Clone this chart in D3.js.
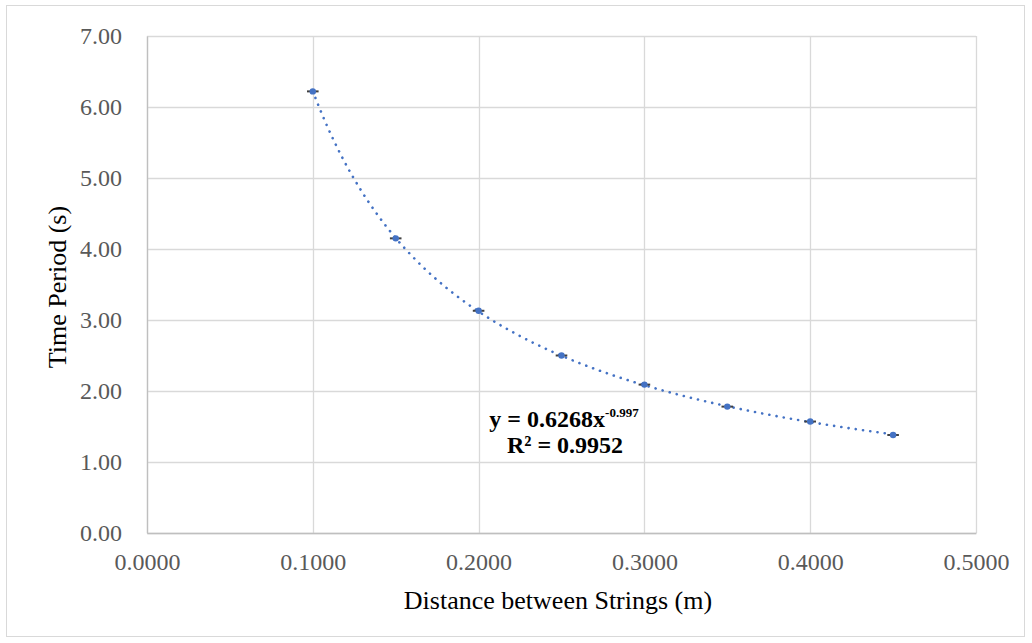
<!DOCTYPE html>
<html>
<head>
<meta charset="utf-8">
<script src="https://cdn.jsdelivr.net/npm/d3@7"></script>
<style>
  body { margin: 0; background: #fff; }
  text { font-family: "Liberation Serif", "Times New Roman", serif; }
</style>
</head>
<body>
<div id="chart"></div>
<script>
// ===== datos =====
const distances = [0.10, 0.15, 0.20, 0.25, 0.30, 0.35, 0.40, 0.45];
const periods = [6.22, 4.15, 3.13, 2.50, 2.09, 1.78, 1.57, 1.38];
const xErr = 0.0035;
const fitA = 0.6268;
const fitB = -0.997;
const xTicks = [0, 0.1, 0.2, 0.3, 0.4, 0.5];
const yTicks = [0, 1, 2, 3, 4, 5, 6, 7];

// ===== configuración =====
const svgWidth = 1032;
const svgHeight = 643;
const margin = { top: 36, right: 56, bottom: 110, left: 147 };
const width = 976 - margin.left;
const height = 533 - margin.top;

const root = d3.select("#chart")
  .append("svg")
  .attr("width", svgWidth)
  .attr("height", svgHeight);

root.append("rect")
  .attr("x", 6.5).attr("y", 5.5)
  .attr("width", 1018).attr("height", 631)
  .attr("fill", "#fff")
  .attr("stroke", "#d9d9d9");

const svg = root.append("g")
  .attr("transform", `translate(${margin.left},${margin.top})`);

const x = d3.scaleLinear().domain([0, 0.5]).range([0, width]);
const y = d3.scaleLinear().domain([0, 7]).range([height, 0]);

// grid
svg.append("g").selectAll("line.h")
  .data(yTicks)
  .join("line")
  .attr("x1", 0).attr("x2", width)
  .attr("y1", d => Math.round(y(d)) + 0.5).attr("y2", d => Math.round(y(d)) + 0.5)
  .attr("stroke", "#d9d9d9").attr("stroke-width", 1.3);

svg.append("g").selectAll("line.v")
  .data(xTicks)
  .join("line")
  .attr("y1", 0).attr("y2", height)
  .attr("x1", d => Math.round(x(d)) + 0.5).attr("x2", d => Math.round(x(d)) + 0.5)
  .attr("stroke", "#d9d9d9").attr("stroke-width", 1.3);

// ejes
const xAxis = svg.append("g")
  .attr("transform", `translate(0,${height})`)
  .call(d3.axisBottom(x).tickValues(xTicks).tickFormat(d3.format(".4f")).tickSize(0).tickPadding(20));
const yAxis = svg.append("g")
  .call(d3.axisLeft(y).tickValues(yTicks).tickFormat(d3.format(".2f")).tickSize(0).tickPadding(25));

[xAxis, yAxis].forEach(a => {
  a.select(".domain").attr("stroke", "#bfbfbf").attr("stroke-width", 1.3);
  a.selectAll("text")
    .attr("fill", "#595959")
    .style("font-size", "24px")
    .style("font-family", "'Liberation Serif', serif");
});
yAxis.selectAll("text").attr("dy", "0.33em");

// línea de tendencia
const fitX = d3.range(0.1, 0.4501, 0.002);
const line = d3.line()
  .x(d => x(d))
  .y(d => y(fitA * Math.pow(d, fitB)));

svg.append("path")
  .datum(fitX)
  .attr("d", line)
  .attr("fill", "none")
  .attr("stroke", "#4472c4")
  .attr("stroke-width", 2.6)
  .attr("stroke-linecap", "round")
  .attr("stroke-dasharray", "0.1 7.2");

// barras de error
const pts = distances.map((d, i) => ({ x: d, y: periods[i] }));
svg.append("g").selectAll("line")
  .data(pts)
  .join("line")
  .attr("x1", d => x(d.x - xErr)).attr("x2", d => x(d.x + xErr))
  .attr("y1", d => y(d.y)).attr("y2", d => y(d.y))
  .attr("stroke", "#404040").attr("stroke-width", 2);

// puntos
svg.append("g").selectAll("circle")
  .data(pts)
  .join("circle")
  .attr("cx", d => x(d.x)).attr("cy", d => y(d.y))
  .attr("r", 3.2)
  .attr("fill", "#4472c4");

// ecuación
const eq = svg.append("text")
  .attr("x", 564 - margin.left).attr("y", 427 - margin.top)
  .attr("text-anchor", "middle")
  .style("font-size", "24px").style("font-weight", "bold")
  .attr("fill", "#000");
eq.append("tspan").text(`y = ${fitA}x`);
eq.append("tspan").attr("dy", -10).style("font-size", "13px").text(fitB);

svg.append("text")
  .attr("x", 565 - margin.left).attr("y", 453 - margin.top)
  .attr("text-anchor", "middle")
  .style("font-size", "24px").style("font-weight", "bold")
  .text("R² = 0.9952");

// títulos
root.append("text")
  .attr("x", 558).attr("y", 609)
  .attr("text-anchor", "middle")
  .style("font-size", "26px")
  .text("Distance between Strings (m)");

root.append("text")
  .attr("transform", "translate(66,287) rotate(-90)")
  .attr("text-anchor", "middle")
  .style("font-size", "26px")
  .text("Time Period (s)");
</script>
</body>
</html>
